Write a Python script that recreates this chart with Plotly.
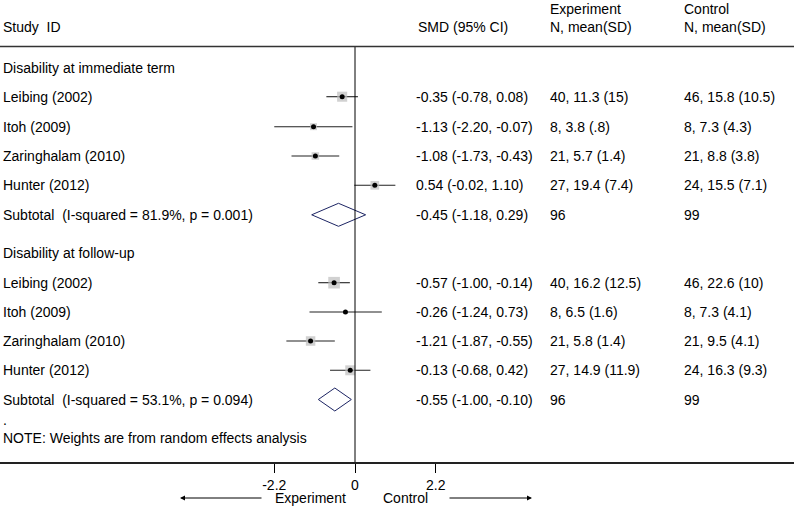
import plotly.graph_objects as go

# ---------------- data ----------------
studies = ["Leibing (2002)", "Itoh (2009)", "Zaringhalam (2010)", "Hunter (2012)"]

imm_smd = [-0.35, -1.13, -1.08, 0.54]
imm_lo = [-0.78, -2.20, -1.73, -0.02]
imm_hi = [0.08, -0.07, -0.43, 1.10]
imm_w = [36, 17, 20, 27]
imm_exp = ["40, 11.3 (15)", "8, 3.8 (.8)", "21, 5.7 (1.4)", "27, 19.4 (7.4)"]
imm_ctl = ["46, 15.8 (10.5)", "8, 7.3 (4.3)", "21, 8.8 (3.8)", "24, 15.5 (7.1)"]
imm_sub = (-0.45, -1.18, 0.29)
imm_sub_label = "Subtotal&nbsp;&nbsp;(I-squared = 81.9%, p = 0.001)"
imm_sub_n = ("96", "99")

fu_smd = [-0.57, -0.26, -1.21, -0.13]
fu_lo = [-1.00, -1.24, -1.87, -0.68]
fu_hi = [-0.14, 0.73, -0.55, 0.42]
fu_w = [48, 3.6, 32, 35]
fu_exp = ["40, 16.2 (12.5)", "8, 6.5 (1.6)", "21, 5.8 (1.4)", "27, 14.9 (11.9)"]
fu_ctl = ["46, 22.6 (10)", "8, 7.3 (4.1)", "21, 9.5 (4.1)", "24, 16.3 (9.3)"]
fu_sub = (-0.55, -1.00, -0.10)
fu_sub_label = "Subtotal&nbsp;&nbsp;(I-squared = 53.1%, p = 0.094)"
fu_sub_n = ("96", "99")

tick_vals = [-2.2, 0, 2.2]
tick_text = ["-2.2", "0", "2.2"]

# ---------------- layout geometry ----------------
W, H = 794, 506
PLOT_BOTTOM = 462          # pixel row of the x axis line
ZERO_PX = 355.0
PX_PER_UNIT = 36.7
x_range = [-ZERO_PX / PX_PER_UNIT, (W - ZERO_PX) / PX_PER_UNIT]

ROW_HEAD1 = 68
ROW_IMM = [96.7, 126.7, 156, 185.3]
ROW_IMM_SUB = 214.8
ROW_HEAD2 = 252.7
ROW_FU = [282.7, 312, 341, 370.3]
ROW_FU_SUB = 399.5
ROW_DOT = 420
ROW_NOTE = 438

COL_LEFT, COL_SMD, COL_EXP, COL_CTL = 1, 414, 548, 682

FONT = dict(family="Liberation Sans, Arial, sans-serif", size=14, color="black")
CI_COLOR = "#222222"
BOX_COLOR = "#bdbdbd"
DIAMOND_COLOR = "#1c2463"


def fmt(e, lo, hi):
    return f"{e:.2f} ({lo:.2f}, {hi:.2f})"


def px(xpix):
    return xpix / W


fig = go.Figure()

groups = [
    (imm_smd, imm_lo, imm_hi, imm_w, ROW_IMM),
    (fu_smd, fu_lo, fu_hi, fu_w, ROW_FU),
]

# CI lines
for smd, lo, hi, w, rows in groups:
    xs, ys = [], []
    for l, h, y in zip(lo, hi, rows):
        xs += [l, h, None]
        ys += [y, y, None]
    fig.add_trace(go.Scatter(x=xs, y=ys, mode="lines",
                             line=dict(color=CI_COLOR, width=1.1),
                             hoverinfo="skip", showlegend=False))

# weight boxes
for smd, lo, hi, w, rows in groups:
    sizes = [1.68 * (v ** 0.5) for v in w]
    fig.add_trace(go.Scatter(x=smd, y=rows, mode="markers",
                             marker=dict(symbol="square", size=sizes,
                                         color=BOX_COLOR, line=dict(width=0)),
                             hoverinfo="skip", showlegend=False))

# point estimates
for smd, lo, hi, w, rows in groups:
    fig.add_trace(go.Scatter(x=smd, y=rows, mode="markers",
                             marker=dict(symbol="circle", size=5, color="black"),
                             hoverinfo="skip", showlegend=False))

# subtotal diamonds
DH = 11.5
for (e, l, h), y in [(imm_sub, ROW_IMM_SUB), (fu_sub, ROW_FU_SUB)]:
    fig.add_trace(go.Scatter(x=[l, e, h, e, l], y=[y, y - DH, y, y + DH, y],
                             mode="lines", line=dict(color=DIAMOND_COLOR, width=1),
                             hoverinfo="skip", showlegend=False))

# zero line
fig.add_shape(type="line", xref="x", yref="y", x0=0, x1=0, y0=46.5, y1=PLOT_BOTTOM,
              line=dict(color="black", width=1))
# header rule
fig.add_shape(type="line", xref="paper", yref="y", x0=0, x1=1, y0=46.5, y1=46.5,
              line=dict(color="#333333", width=1.5))

ann = []


def text(xpix, y, s):
    ann.append(dict(x=px(xpix), y=y, xref="paper", yref="y", text=s,
                    showarrow=False, xanchor="left", yanchor="middle", font=FONT))


# headers
text(COL_LEFT, 27, "Study&nbsp;&nbsp;ID")
text(COL_SMD + 2, 27, "SMD (95% CI)")
text(COL_EXP, 9, "Experiment")
text(COL_EXP, 27, "N, mean(SD)")
text(COL_CTL, 9, "Control")
text(COL_CTL, 27, "N, mean(SD)")

text(COL_LEFT, ROW_HEAD1, "Disability at immediate term")
for i, y in enumerate(ROW_IMM):
    text(COL_LEFT, y, studies[i])
    text(COL_SMD, y, fmt(imm_smd[i], imm_lo[i], imm_hi[i]))
    text(COL_EXP, y, imm_exp[i])
    text(COL_CTL, y, imm_ctl[i])
text(COL_LEFT, ROW_IMM_SUB, imm_sub_label)
text(COL_SMD, ROW_IMM_SUB, fmt(*imm_sub))
text(COL_EXP, ROW_IMM_SUB, imm_sub_n[0])
text(COL_CTL, ROW_IMM_SUB, imm_sub_n[1])

text(COL_LEFT, ROW_HEAD2, "Disability at follow-up")
for i, y in enumerate(ROW_FU):
    text(COL_LEFT, y, studies[i])
    text(COL_SMD, y, fmt(fu_smd[i], fu_lo[i], fu_hi[i]))
    text(COL_EXP, y, fu_exp[i])
    text(COL_CTL, y, fu_ctl[i])
text(COL_LEFT, ROW_FU_SUB, fu_sub_label)
text(COL_SMD, ROW_FU_SUB, fmt(*fu_sub))
text(COL_EXP, ROW_FU_SUB, fu_sub_n[0])
text(COL_CTL, ROW_FU_SUB, fu_sub_n[1])

text(COL_LEFT, ROW_DOT, ".")
text(COL_LEFT, ROW_NOTE, "NOTE: Weights are from random effects analysis")

# direction labels and arrows below the axis
def paper_y(ypix):
    return (PLOT_BOTTOM - ypix) / PLOT_BOTTOM

ann.append(dict(x=(310 - ZERO_PX) / PX_PER_UNIT, y=paper_y(498), xref="x", yref="paper",
                text="Experiment", showarrow=False, xanchor="center", yanchor="middle", font=FONT))
ann.append(dict(x=(405 - ZERO_PX) / PX_PER_UNIT, y=paper_y(498), xref="x", yref="paper",
                text="Control", showarrow=False, xanchor="center", yanchor="middle", font=FONT))
ann.append(dict(x=(180 - ZERO_PX) / PX_PER_UNIT, y=paper_y(498), xref="x", yref="paper",
                ax=83, ay=0, axref="pixel", ayref="pixel", text="", showarrow=True,
                arrowhead=2, arrowsize=1, arrowwidth=1, arrowcolor="black"))
ann.append(dict(x=(532 - ZERO_PX) / PX_PER_UNIT, y=paper_y(498), xref="x", yref="paper",
                ax=-84, ay=0, axref="pixel", ayref="pixel", text="", showarrow=True,
                arrowhead=2, arrowsize=1, arrowwidth=1, arrowcolor="black"))

fig.update_layout(
    width=W, height=H,
    margin=dict(l=0, r=0, t=0, b=H - PLOT_BOTTOM, pad=0),
    paper_bgcolor="white", plot_bgcolor="white",
    font=FONT,
    annotations=ann,
    xaxis=dict(range=x_range, showgrid=False, zeroline=False,
               showline=True, linecolor="#222222", linewidth=1.5,
               tickmode="array", tickvals=tick_vals, ticktext=tick_text,
               ticks="outside", ticklen=9, tickwidth=1, tickcolor="black",
               tickfont=FONT, fixedrange=True),
    yaxis=dict(range=[PLOT_BOTTOM, 0], visible=False, showgrid=False,
               zeroline=False, fixedrange=True),
    showlegend=False,
)

fig.write_html("out.html", config={"displayModeBar": False},
               post_script="document.body.style.margin='0px';document.body.style.overflow='hidden';")
